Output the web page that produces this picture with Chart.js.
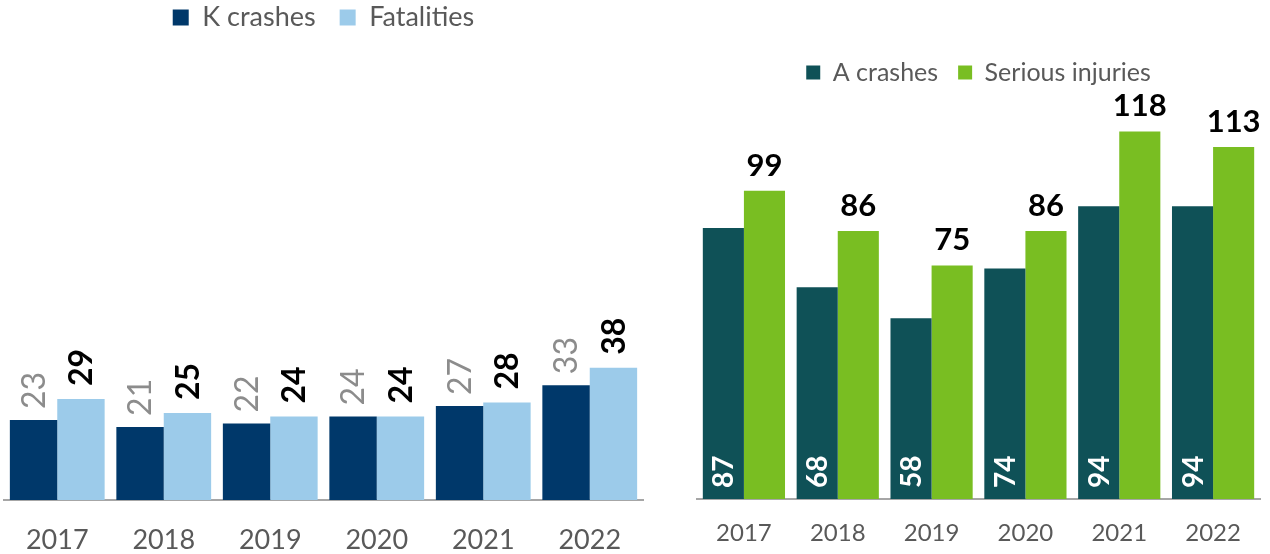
<!DOCTYPE html>
<html>
<head>
<meta charset="utf-8">
<script src="https://cdn.jsdelivr.net/npm/chart.js@4/dist/chart.umd.min.js"></script>
<style>
  body { margin: 0; background: #fff; }
  .box { position: absolute; top: 0; height: 554px; }
  #left { left: 0; width: 645px; }
  #right { left: 645px; width: 625px; }
</style>
</head>
<body>
<div class="box" id="left"><canvas id="kChart"></canvas></div>
<div class="box" id="right"><canvas id="aChart"></canvas></div>
<script>
// Data
const years = ['2017', '2018', '2019', '2020', '2021', '2022'];
const kCrashes = [23, 21, 22, 24, 27, 33];
const fatalities = [29, 25, 24, 24, 28, 38];
const aCrashes = [87, 68, 58, 74, 94, 94];
const seriousInjuries = [99, 86, 75, 86, 118, 113];

const FONT = 'Lato, "Open Sans", sans-serif';

// draws value labels on the bars
const barLabels = {
  id: 'barLabels',
  afterDatasetsDraw(chart, args, opts) {
    const ctx = chart.ctx;
    chart.data.datasets.forEach((ds, i) => {
      const s = opts.styles[i];
      chart.getDatasetMeta(i).data.forEach((bar, j) => {
        const text = String(ds.data[j]);
        ctx.save();
        ctx.font = s.font;
        ctx.fillStyle = s.color;
        if (s.mode === 'top') {
          ctx.textAlign = 'center';
          ctx.textBaseline = 'alphabetic';
          ctx.fillText(text, bar.x, bar.y - s.offset);
        } else {
          const y = s.mode === 'base' ? bar.base - s.offset : bar.y - s.offset;
          ctx.translate(bar.x + 1, y);
          ctx.rotate(-Math.PI / 2);
          ctx.textAlign = 'left';
          ctx.textBaseline = 'middle';
          ctx.fillText(text, 0, 0);
        }
        ctx.restore();
      });
    });
  }
};

function makeChart(id, cfg) {
  return new Chart(document.getElementById(id), {
    type: 'bar',
    plugins: [barLabels],
    data: {
      labels: years,
      datasets: cfg.datasets.map(d => ({
        label: d.label,
        data: d.data,
        backgroundColor: d.color,
        borderWidth: 0,
        categoryPercentage: cfg.catPct,
        barPercentage: 1
      }))
    },
    options: {
      responsive: true,
      maintainAspectRatio: false,
      animation: false,
      layout: { padding: cfg.padding },
      plugins: {
        tooltip: { enabled: false },
        legend: {
          labels: {
            color: '#595959',
            font: { family: FONT, size: cfg.legendSize },
            boxWidth: cfg.legendBox,
            boxHeight: cfg.legendBox,
            padding: cfg.legendPad
          }
        },
        barLabels: { styles: cfg.styles }
      },
      scales: {
        x: {
          grid: { display: false },
          border: { display: true, color: '#a6a6a6', width: 2 },
          ticks: {
            color: '#595959',
            font: { family: FONT, size: cfg.tickSize },
            padding: cfg.tickPad,
            maxRotation: 0
          },
          afterFit(scale) { scale.height = cfg.xHeight; }
        },
        y: { display: false, min: 0, max: cfg.yMax }
      }
    }
  });
}

makeChart('kChart', {
  datasets: [
    { label: 'K crashes', data: kCrashes, color: '#00386a' },
    { label: 'Fatalities', data: fatalities, color: '#9ccbea' }
  ],
  catPct: 0.89,
  padding: { left: 4, right: 2, top: -20 },
  legendSize: 27, legendBox: 16, legendPad: 24,
  tickSize: 27, tickPad: 16, xHeight: 54,
  yMax: 131.9,
  styles: [
    { mode: 'rot', font: '32px ' + FONT, color: '#8c8c8c', offset: 11 },
    { mode: 'rot', font: 'bold 32px ' + FONT, color: '#000000', offset: 13 }
  ]
});

makeChart('aChart', {
  datasets: [
    { label: 'A crashes', data: aCrashes, color: '#0f5157' },
    { label: 'Serious injuries', data: seriousInjuries, color: '#79be22' }
  ],
  catPct: 0.876,
  padding: { left: 52, right: 10, top: 40 },
  legendSize: 25, legendBox: 14, legendPad: 20,
  tickSize: 24, tickPad: 12, xHeight: 55,
  yMax: 129.7,
  styles: [
    { mode: 'base', font: 'bold 28px ' + FONT, color: '#ffffff', offset: 11 },
    { mode: 'top', font: 'bold 31px ' + FONT, color: '#000000', offset: 15 }
  ]
});
</script>
</body>
</html>
